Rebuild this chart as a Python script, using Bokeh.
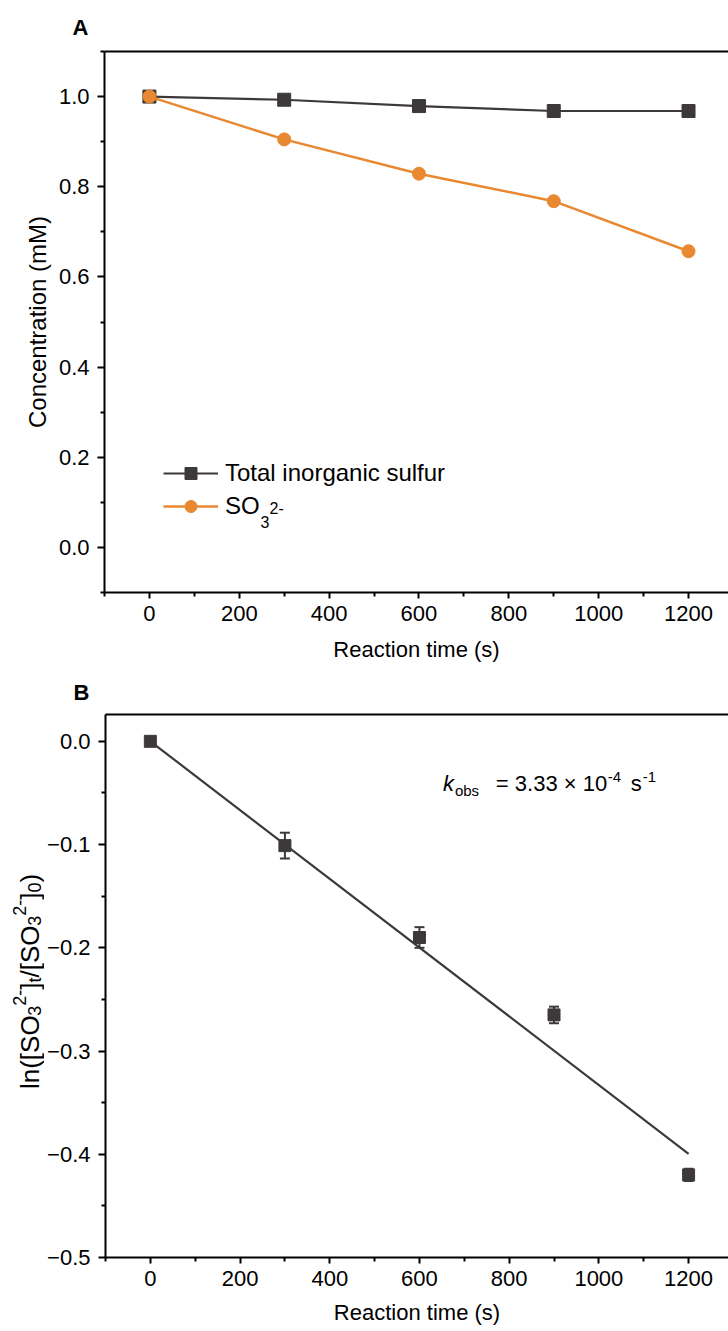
import math
from bokeh.plotting import figure
from bokeh.models import (Range1d, FixedTicker, LinearAxis, Whisker, TeeHead, ColumnDataSource,
                          Legend, LegendItem, Label, CustomJSTickFormatter)
from bokeh.layouts import column, row
from bokeh.embed import file_html
from bokeh.resources import INLINE

# ---------------- data ----------------
time_s = [0, 300, 600, 900, 1200]
total_sulfur = [1.000, 0.993, 0.979, 0.968, 0.968]
total_sulfur_err = [0.004, 0.004, 0.004, 0.004, 0.004]
sulfite = [1.000, 0.905, 0.829, 0.768, 0.657]
sulfite_err = [0.004, 0.006, 0.006, 0.006, 0.006]
ln_ratio = [0.000, -0.101, -0.190, -0.265, -0.420]
ln_ratio_err = [0.000, 0.0125, 0.010, 0.008, 0.006]
fit_time = [0, 1200]
fit_ln = [0.000, -0.3996]

x_ticks = [0, 200, 400, 600, 800, 1000, 1200]
x_minor = [-100, 100, 300, 500, 700, 900, 1100]
yA_ticks = [0.0, 0.2, 0.4, 0.6, 0.8, 1.0]
yA_minor = [-0.1, 0.1, 0.3, 0.5, 0.7, 0.9, 1.1]
yB_ticks = [-0.5, -0.4, -0.3, -0.2, -0.1, 0.0]
yB_minor = [-0.45, -0.35, -0.25, -0.15, -0.05]

# ---------------- style / geometry ----------------
FONT = "Liberation Sans"
DARK = "#3d393a"
ORANGE = "#E88830"
XR = (-100, 1289)
YA = (-0.1, 1.1)
YB = (-0.5, 0.026)
W = 728
FL = 104                        # page x of frame left (both panels)
SX = (W - FL) / (XR[1] - XR[0])
HA, TOPA, BOTA = 668, 49, 76
HB, TOPB, BOTB = 663, 44, 74
B0 = HA                         # page y where panel B starts
SIDE_W = 44

fmt = CustomJSTickFormatter(code="""
if (Math.abs(tick) < 1e-9) { return "0.0"; }
const s = Math.abs(tick).toFixed(1);
return tick < 0 ? "\u2212" + s : s;
""")


def style_axis(ax, major, minor, label_size="22px"):
    ax.ticker = FixedTicker(ticks=major, minor_ticks=minor)
    ax.axis_line_width = 2
    ax.axis_line_color = "black"
    ax.major_tick_line_width = 2
    ax.minor_tick_line_width = 2
    ax.major_tick_line_color = "black"
    ax.minor_tick_line_color = "black"
    ax.major_tick_in = 0
    ax.major_tick_out = 7
    ax.minor_tick_in = 0
    ax.minor_tick_out = 4
    ax.major_label_text_font = FONT
    ax.major_label_text_font_size = "22px"
    ax.major_label_text_color = "black"
    ax.axis_label_text_font = FONT
    ax.axis_label_text_font_size = label_size
    ax.axis_label_text_font_style = "normal"
    ax.axis_label_text_color = "black"


def top_border(p):
    ax = LinearAxis(ticker=FixedTicker(ticks=[]), major_label_text_font_size="0px",
                    major_label_standoff=0,
                    major_tick_out=0, major_tick_in=0, minor_tick_out=0, minor_tick_in=0,
                    axis_line_width=2, axis_line_color="black")
    p.add_layout(ax, "above")


def make_fig(width, height, left, top, bottom, yr, letter, standoff):
    p = figure(width=width, height=height, x_range=Range1d(*XR), y_range=Range1d(*yr),
               output_backend="svg", toolbar_location=None,
               min_border_left=left, min_border_right=0,
               min_border_top=top, min_border_bottom=bottom)
    p.outline_line_color = None
    p.xgrid.visible = False
    p.ygrid.visible = False
    p.background_fill_color = "white"
    p.border_fill_color = "white"
    p.title.text = letter
    p.title.text_font = FONT
    p.title.text_font_size = "22px"
    p.title.text_font_style = "bold"
    p.title.text_color = "black"
    p.title.align = "left"
    p.title.offset = -32
    p.title.standoff = standoff
    return p


def ax_x(px):            # page px -> data x (both panels share x mapping)
    return XR[0] + (px - FL) / SX


# ---------------- panel A ----------------
pA = make_fig(W, HA, FL, TOPA, BOTA, YA, "A", 24)
SYA = (HA - TOPA - BOTA) / (YA[1] - YA[0])
style_axis(pA.xaxis[0], x_ticks, x_minor)
pA.xaxis[0].major_label_standoff = 7
pA.xaxis[0].major_tick_out = 6
pA.xaxis[0].axis_label = "Reaction time (s)"
pA.xaxis[0].axis_label_standoff = 13
style_axis(pA.yaxis[0], yA_ticks, yA_minor, "24px")
pA.yaxis[0].formatter = fmt
pA.yaxis[0].major_label_standoff = 8
pA.yaxis[0].axis_label = "Concentration (mM)"
pA.yaxis[0].axis_label_standoff = 5
top_border(pA)


def ay(py):
    return YA[1] - (py - TOPA) / SYA


srcA = ColumnDataSource(dict(
    t=time_s, tot=total_sulfur, so3=sulfite,
    tot_lo=[v - e for v, e in zip(total_sulfur, total_sulfur_err)],
    tot_hi=[v + e for v, e in zip(total_sulfur, total_sulfur_err)],
    so3_lo=[v - e for v, e in zip(sulfite, sulfite_err)],
    so3_hi=[v + e for v, e in zip(sulfite, sulfite_err)],
))
for lo, hi, col in (("tot_lo", "tot_hi", DARK), ("so3_lo", "so3_hi", ORANGE)):
    pA.add_layout(Whisker(source=srcA, base="t", lower=lo, upper=hi, line_color=col, line_width=2,
                          lower_head=TeeHead(size=9, line_color=col, line_width=2),
                          upper_head=TeeHead(size=9, line_color=col, line_width=2)))
l_tot = pA.line("t", "tot", source=srcA, line_color=DARK, line_width=2.2)
s_tot = pA.scatter("t", "tot", source=srcA, marker="square", size=13, color=DARK)
l_so3 = pA.line("t", "so3", source=srcA, line_color=ORANGE, line_width=2.5)
s_so3 = pA.scatter("t", "so3", source=srcA, marker="circle", size=13, color=ORANGE)

legA = Legend(items=[LegendItem(label="Total inorganic sulfur", renderers=[l_tot, s_tot]),
                     LegendItem(label="SO", renderers=[l_so3, s_so3])],
              location=(59, 71), glyph_width=55, glyph_height=30, label_height=30, spacing=3,
              padding=0, margin=0, border_line_color=None, background_fill_alpha=0,
              label_text_font=FONT, label_text_font_size="24px", label_standoff=7,
              label_text_color="black")
pA.add_layout(legA)

for txt, px, py in (("3", 260, 521), ("2-", 269, 507)):
    pA.add_layout(Label(x=ax_x(px), y=ay(py), text=txt, text_font=FONT, text_font_size="16px",
                        text_baseline="alphabetic", text_align="left", text_color="black"))

# ---------------- panel B ----------------
pB = make_fig(W - SIDE_W, HB, FL - SIDE_W, TOPB, BOTB, YB, "B", 19)
SYB = (HB - TOPB - BOTB) / (YB[1] - YB[0])
style_axis(pB.xaxis[0], x_ticks, x_minor)
pB.xaxis[0].major_label_standoff = 7
pB.xaxis[0].major_tick_out = 6
pB.xaxis[0].axis_label = "Reaction time (s)"
pB.xaxis[0].axis_label_standoff = 11
style_axis(pB.yaxis[0], yB_ticks, yB_minor)
pB.yaxis[0].formatter = fmt
pB.yaxis[0].major_label_standoff = 8
top_border(pB)


def by(py):
    return YB[1] - (py - B0 - TOPB) / SYB


srcB = ColumnDataSource(dict(
    t=time_s, ln=ln_ratio,
    lo=[v - e for v, e in zip(ln_ratio, ln_ratio_err)],
    hi=[v + e for v, e in zip(ln_ratio, ln_ratio_err)],
))
pB.add_layout(Whisker(source=srcB, base="t", lower="lo", upper="hi", line_color=DARK, line_width=2,
                      lower_head=TeeHead(size=10, line_color=DARK, line_width=2),
                      upper_head=TeeHead(size=10, line_color=DARK, line_width=2)))
pB.line(fit_time, fit_ln, line_color=DARK, line_width=2.2)
pB.scatter("t", "ln", source=srcB, marker="square", size=12, color=DARK)

# k_obs annotation
for txt, px, py, size, style in (("k", 442, 781.7, "22px", "italic"),
                                 ("obs", 454, 788, "15px", "normal"),
                                 ("= 3.33 \u00d7 10", 495, 781.7, "22px", "normal"),
                                 ("-4", 607, 775, "15px", "normal"),
                                 ("s", 630, 781.7, "22px", "normal"),
                                 ("-1", 642, 775, "15px", "normal")):
    pB.add_layout(Label(x=ax_x(px), y=by(py), text=txt, text_font=FONT, text_font_size=size,
                        text_font_style=style, text_baseline="alphabetic", text_align="left",
                        text_color="black"))

# ---------------- side strip holding the rotated y label of panel B ----------------
# (its frame is aligned with panel B's frame, so it shares panel B's y range)
side = figure(width=SIDE_W, height=HB, x_range=Range1d(0, SIDE_W), y_range=pB.y_range,
              output_backend="svg", toolbar_location=None, x_axis_location=None,
              y_axis_location=None, min_border_left=0, min_border_right=0,
              min_border_top=TOPB, min_border_bottom=BOTB)
side.outline_line_color = None
side.xgrid.visible = False
side.ygrid.visible = False
side.border_fill_color = "white"

ADV = {"l": .222, "n": .556, "(": .333, ")": .333, "[": .278, "]": .278, "S": .667, "O": .778,
       "3": .556, "2": .556, "0": .556, "-": .333, "t": .278, "/": .278}
MAIN, SMALL = 26, 18
SUB, SUP = 5, -10
runs = [("ln([SO", MAIN, 0), ("3", SMALL, SUB), ("2-", SMALL, SUP), ("]", MAIN, 0),
        ("t", SMALL, SUB), ("/[SO", MAIN, 0), ("3", SMALL, SUB), ("2-", SMALL, SUP),
        ("]", MAIN, 0), ("0", SMALL, SUB), (")", MAIN, 0)]
total_len = sum(sum(ADV[c] for c in t) * s for t, s, _ in runs)
pos = 980 + total_len / 2
BASE_X = 29
for txt, size, shift in runs:
    side.add_layout(Label(x=BASE_X + shift, y=by(pos), text=txt, angle=math.pi / 2,
                          text_font=FONT, text_font_size=f"{size}px", text_baseline="alphabetic",
                          text_align="left", text_color="black"))
    pos -= sum(ADV[c] for c in txt) * size

layout = column(pA, row(side, pB))
open("out.html", "w").write(file_html(layout, INLINE))
